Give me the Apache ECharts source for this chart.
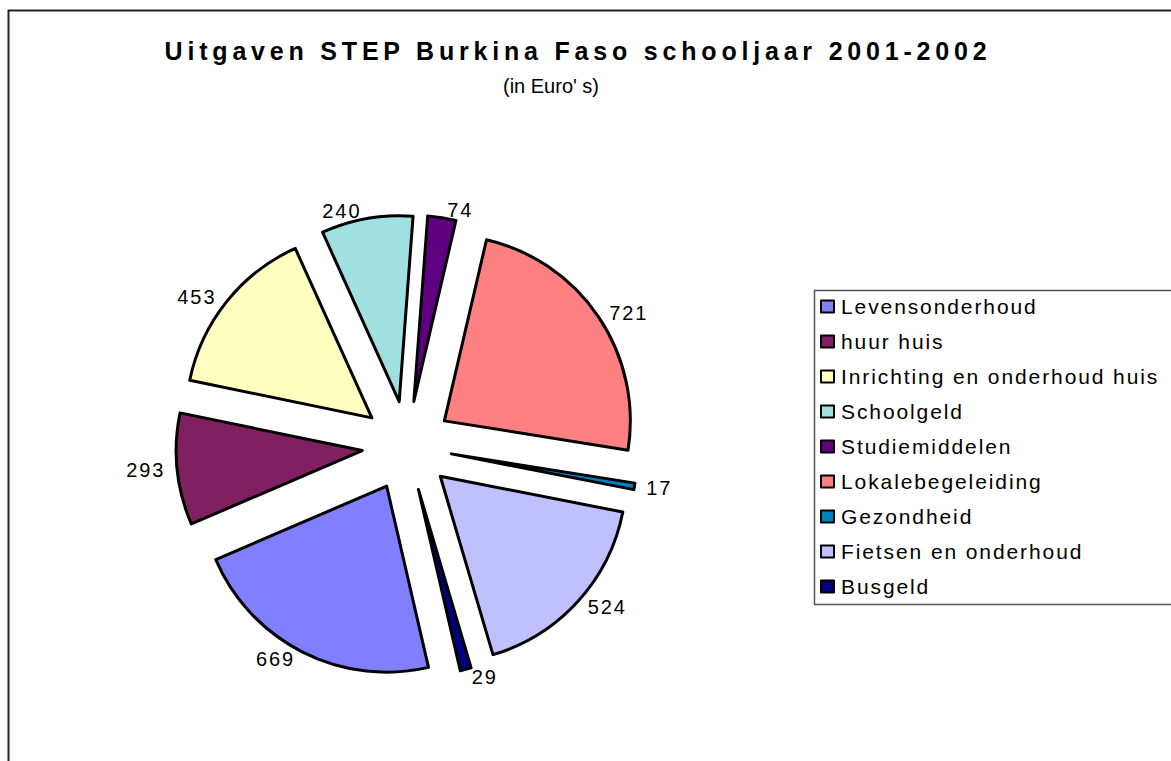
<!DOCTYPE html>
<html>
<head>
<meta charset="utf-8">
<title>Uitgaven STEP Burkina Faso</title>
<script src="https://cdn.jsdelivr.net/npm/echarts@6/dist/echarts.min.js"></script>
<style>
  html, body { margin: 0; padding: 0; background: #fff; }
  #main { width: 1171px; height: 761px; }
  /* Excel-like letter spacing: bold title wide, legend + labels a bit */
  #main text[style*="bold"] { letter-spacing: 4.8px; }
  #main text[style*="Helvetica"] { letter-spacing: 1.9px; }
</style>
</head>
<body>
<div id="main"></div>
<script>
// categories and amounts (Euro)
const categories = [
  "Levensonderhoud",
  "huur huis",
  "Inrichting en onderhoud huis",
  "Schoolgeld",
  "Studiemiddelen",
  "Lokalebegeleiding",
  "Gezondheid",
  "Fietsen en onderhoud",
  "Busgeld"
];
const values = [669, 293, 453, 240, 74, 721, 17, 524, 29];
const colors = [
  "#8080FF", "#802060", "#FFFFC0", "#A0E0E0", "#600080",
  "#FF8080", "#0080C0", "#C0C0FF", "#000080"
];

const spaced = "'Liberation Sans', Helvetica, sans-serif";

let myChart = echarts.init(document.getElementById("main"), null, { renderer: "svg" }),
  data = [];
for (let i = 0; i < categories.length; i++) {
  data.push({
    name: categories[i],
    value: values[i],
    selected: true,
    itemStyle: { color: colors[i] }
  });
}

let option = {
  animation: false,
  backgroundColor: "#fff",
  title: [
    {
      text: "Uitgaven STEP Burkina Faso schooljaar 2001-2002",
      left: 573,
      top: 33,
      textAlign: "center",
      textStyle: {
        fontFamily: "'Liberation Sans', Arial, sans-serif",
        fontSize: 25,
        fontWeight: "bold",
        color: "#000"
      }
    },
    {
      text: "(in Euro' s)",
      left: 546,
      top: 71,
      textAlign: "center",
      textStyle: {
        fontFamily: "'Liberation Sans', sans-serif",
        fontSize: 20,
        fontWeight: "normal",
        color: "#000"
      }
    }
  ],
  graphic: [
    {
      // outer chart frame
      type: "rect",
      left: 6,
      top: 8,
      shape: { width: 1200, height: 800 },
      style: { fill: "none", stroke: "#222", lineWidth: 2 },
      silent: true
    },
    {
      // legend frame
      type: "rect",
      left: 812,
      top: 288,
      shape: { width: 400, height: 314 },
      style: { fill: "none", stroke: "#555", lineWidth: 1.5 },
      silent: true
    }
  ],
  legend: {
    orient: "vertical",
    left: 815,
    top: 291,
    itemWidth: 13,
    itemHeight: 12,
    itemGap: 14,
    selectedMode: false,
    icon: "rect",
    itemStyle: { borderColor: "#000", borderWidth: 2 },
    textStyle: {
      fontFamily: spaced,
      fontSize: 21,
      color: "#000",
      padding: [0, 0, 0, 2]
    },
    data: categories
  },
  series: [
    {
      type: "pie",
      center: [407, 446],
      radius: 186,
      startAngle: -77,
      clockwise: true,
      selectedMode: "multiple",
      selectedOffset: 45,
      avoidLabelOverlap: false,
      itemStyle: {
        borderColor: "#000",
        borderWidth: 3
      },
      label: {
        show: true,
        position: "outside",
        formatter: "{c}",
        fontFamily: spaced,
        fontSize: 20,
        color: "#000",
        distanceToLabelLine: 4
      },
      labelLine: { show: false, length: 8, length2: 0 },
      emphasis: { disabled: true },
      data: data
    }
  ]
};

if (option && typeof option === "object") myChart.setOption(option);
window.addEventListener("resize", function () {
  myChart.resize();
});
</script>
</body>
</html>
